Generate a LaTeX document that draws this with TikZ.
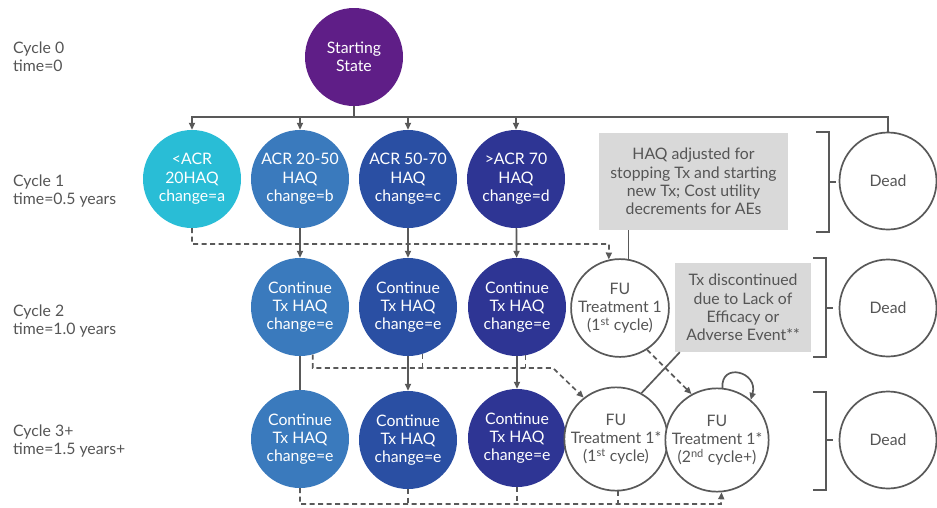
\documentclass[tikz,border=0pt]{standalone}
\usepackage{fontspec}
\setmainfont{Lato}
\usetikzlibrary{arrows.meta,calc}
\definecolor{cpurple}{HTML}{5F1E87}
\definecolor{ccyan}{HTML}{29BDD6}
\definecolor{cblueA}{HTML}{3A7ABD}
\definecolor{cblueB}{HTML}{2A4FA3}
\definecolor{cblueC}{HTML}{2E3594}
\definecolor{gb}{HTML}{D9D9D9}
\definecolor{lc}{HTML}{595959}
\definecolor{tc}{HTML}{555555}
\begin{document}
\begin{tikzpicture}[x=1pt,y=-1pt,
  every node/.style={font=\fontsize{15.8}{18.3}\selectfont},
  st/.style={circle, minimum size=98pt, inner sep=0pt, align=center, text=white},
  wst/.style={circle, minimum size=97pt, inner sep=0pt, align=center, draw=lc, line width=1.7pt, text=tc, fill=white},
  gbox/.style={fill=gb, align=center, text=tc, inner sep=0pt},
  lab/.style={anchor=west, align=left, text=tc, inner sep=0pt},
  ln/.style={draw=lc, line width=1.7pt},
  arr/.style={ln, -{Triangle[length=7pt,width=6pt]}},
  dsh/.style={ln, dash pattern=on 5pt off 3.5pt},
  darr/.style={dsh, -{Triangle[length=7pt,width=6pt]}},
]
\useasboundingbox (0,0) rectangle (937,507);

% left labels
\node[lab] (l0) at (13,57) {Cycle 0\\time=0};
\node[lab] (l1) at (13,191) {Cycle 1\\time=0.5 years};
\node[lab] (l2) at (13,321) {Cycle 2\\time=1.0 years};
\node[lab] (l3) at (13,441) {Cycle 3+\\time=1.5 years+};

% start
\node[st, fill=cpurple] (start) at (354,57) {Starting\\State};

% row 1
\node[st, fill=ccyan] (a1) at (192,179) {<ACR\\20HAQ\\change=a};
\node[st, fill=cblueA] (b1) at (300,179) {ACR 20-50\\HAQ\\change=b};
\node[st, fill=cblueB] (c1) at (408,179) {ACR 50-70\\HAQ\\change=c};
\node[st, fill=cblueC] (d1) at (516,179) {>ACR 70\\HAQ\\change=d};
\node[gbox, minimum width=189pt, minimum height=97pt] (box1) at (693.5,181.5)
  {HAQ adjusted for\\stopping Tx and starting\\new Tx; Cost utility\\decrements for AEs};
\node[wst] (dead1) at (888,181) {Dead};

% row 2
\node[st, fill=cblueA] (b2) at (300,307) {Continue\\Tx HAQ\\change=e};
\node[st, fill=cblueB] (c2) at (408,307) {Continue\\Tx HAQ\\change=e};
\node[st, fill=cblueC] (d2) at (517,307) {Continue\\Tx HAQ\\change=e};
\node[wst] (fu1) at (620,308) {FU\\Treatment 1\\(1\textsuperscript{st} cycle)};
\node[gbox, minimum width=136pt, minimum height=89pt] (box2) at (743,307.5)
  {Tx discontinued\\due to Lack of\\Efficacy or\\Adverse Event**};
\node[wst] (dead2) at (888,308) {Dead};

% row 3
\node[st, fill=cblueA] (b3) at (300,439) {Continue\\Tx HAQ\\change=e};
\node[st, fill=cblueB] (c3) at (408,440) {Continue\\Tx HAQ\\change=e};
\node[st, fill=cblueC] (d3) at (517,438) {Continue\\Tx HAQ\\change=e};
\node[wst] (fu1s) at (616,439) {FU\\Treatment 1*\\(1\textsuperscript{st} cycle)};
\node[wst] (fu2) at (717,440) {FU\\Treatment 1*\\(2\textsuperscript{nd} cycle+)};
\node[wst] (dead3) at (888,440) {Dead};

% brackets
\draw[ln] (816,132) -- (829,132) -- (829,232) -- (816,232) (829,182) -- (836,182);
\draw[ln] (813,258) -- (826,258) -- (826,357) -- (813,357) (826,308) -- (833,308);
\draw[ln] (813,392) -- (826,392) -- (826,490) -- (813,490) (826,440) -- (833,440);

% coordinates
\coordinate (hb) at (354,117);
\coordinate (k1) at (609,244);
\coordinate (k2) at (553,368);
\coordinate (k3) at (721,504);

% start fan-out
\draw[ln] (start) -- (hb);
\draw[arr] (hb) -| (a1);
\draw[arr] (hb) -| (b1);
\draw[arr] (hb) -| (c1);
\draw[arr] (hb) -| (d1);
\draw[ln] (hb) -| (dead1);

% row 1 -> row 2
\draw[arr] (b1) -- (b2);
\draw[arr] (c1) -- (c2);
\draw[arr] (d1) -- (d2);
\draw[darr] (a1.south) |- (k1) -- (fu1.103);
\draw[ln] (fu1.80 |- box1.south) -- (fu1.80);

% row 2 -> row 3
\draw[ln] (b2) -- (b3);
\draw[arr] (c2) -- (c3);
\draw[arr] (d2) -- (d3);
\draw[darr] (b2.-75) |- (k2) -- (fu1s.128);
\draw[dsh] (c2.-73) -- (c2.-73 |- k2);
\draw[dsh] (d2.-80) -- (d2.-80 |- k2);
\draw[ln] ($(box2.south west)+(5,0)$) -- (fu1s.61);
\draw[darr] (fu1.-57) -- (fu2.119);

% self loop
\draw[arr] (fu2.84) .. controls +(-2,-26) and +(8,-28) .. (fu2.50);

% bottom dashed return
\draw[darr] (b3.south) |- (k3) -- (fu2.-85);
\draw[dsh] (c3.south) -- (c3.south |- k3);
\draw[dsh] (d3.south) -- (d3.south |- k3);
\draw[dsh] (fu1s.-88) -- (fu1s.-88 |- k3);
\end{tikzpicture}
\end{document}
